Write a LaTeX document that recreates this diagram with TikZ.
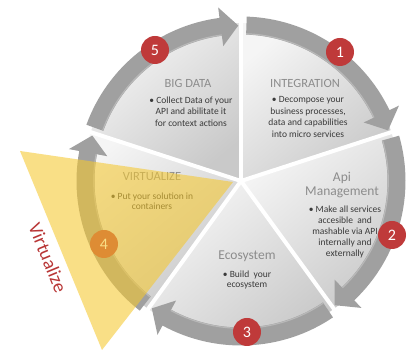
\documentclass[tikz,border=0pt]{standalone}
\usepackage{fontspec}
\setmainfont{Carlito}
\definecolor{wedgeL}{HTML}{F5F5F5}
\definecolor{wedgeD}{HTML}{C9C9C9}
\definecolor{arrowc}{HTML}{A0A0A0}
\definecolor{arrowL}{HTML}{B8B8B8}
\definecolor{titlegray}{HTML}{8C8C8C}
\definecolor{bulgray}{HTML}{3A3A3A}
\definecolor{numred}{HTML}{BF3A3A}
\definecolor{trifill}{HTML}{F5C830}
\definecolor{virtred}{HTML}{B83535}
\tikzset{
  ttl/.style={text=titlegray, font=\fontsize{12.5}{14}\selectfont, inner sep=0pt},
  bul/.style={text=bulgray, font=\fontsize{9.5}{11.4}\selectfont, align=center, inner sep=0pt},
  numc/.style={circle, fill=numred, text=white, minimum size=28pt, inner sep=0pt, font=\fontsize{16}{16}\selectfont},
  wedge/.style={top color=wedgeL, bottom color=wedgeD, shading angle=40},
  ringarrow/.style={fill=arrowc},
  sep/.style={white, line width=4pt},
  tri/.style={fill=trifill, fill opacity=0.58}
}
\begin{document}
\begin{tikzpicture}[x=1pt,y=1pt]
\useasboundingbox (0,0) rectangle (408,352);
\fill[white] (0,0) rectangle (408,352);
\coordinate (C) at (241,171);
% wedges
\foreach \lo/\hi in {18/90, -54/18, -126/-54, 162/234, 90/162} {
  \shade[wedge, shift={(C)}] (0,0) -- (\lo:158) arc[start angle=\lo, end angle=\hi, radius=158] -- cycle;
}
% separators
\foreach \a in {90,18,-54,-126,162} {
  \draw[sep, shift={(C)}] (0,0) -- (\a:170);
}
% ring arrows
\foreach \lo/\hi in {18/90, -54/18, -126/-54, 162/234, 90/162} {
  \pgfmathsetmacro\as{\hi-2}
  \pgfmathsetmacro\ab{\lo+7.5}
  \pgfmathsetmacro\at{\lo+1}
  \fill[ringarrow, shift={(C)}] (\as:164.5) arc[start angle=\as, end angle=\ab, radius=164.5]
    -- (\ab:175) -- (\at:155.5) -- (\ab:136) -- (\ab:146.5)
    arc[start angle=\ab, end angle=\as, radius=146.5] -- cycle;
  \draw[arrowL, line width=1.2pt, shift={(C)}] (\as:147.3) arc[start angle=\as, end angle=\ab, radius=147.3];
}
% texts
\node[ttl] (t5) at (188,269) {BIG DATA};
\node[bul] (b5) at (191,240.5) {• Collect Data of your\\API and abilitate it\\for context actions};
\node[ttl] (t1) at (305,269) {INTEGRATION};
\node[bul] (b1) at (308,235) {• Decompose your\\business processes,\\data and capabilities\\into micro services};
\node[ttl, font=\fontsize{13.5}{14}\selectfont, align=center] (t2) at (342,167) {Api\\Management};
\node[bul, font=\fontsize{9.5}{11}\selectfont] (b2) at (345,120) {• Make all services\\accesible\ \ and\\mashable via API\\internally and\\externally};
\node[ttl, font=\fontsize{13.5}{14}\selectfont] (t3) at (247,96) {Ecosystem};
\node[bul, font=\fontsize{9.5}{10.5}\selectfont] (b3) at (247,72) {• Build\ \ your\\ecosystem};
\node[ttl] (t4) at (152,175) {VIRTUALIZE};
\node[bul, font=\fontsize{9.5}{10.5}\selectfont] (b4) at (152,151) {• Put your solution in\\containers};
% numbers
\node[numc] (n5) at (155,302) {5};
\node[numc] (n1) at (340,300) {1};
\node[numc] (n2) at (392,117) {2};
\node[numc] (n3) at (247,20) {3};
\node[numc] (n4) at (104,108) {4};
% triangle
\fill[tri] (20,201) -- (233,170) -- (102,2) -- cycle;
\node[rotate=-67.6, text=virtred, font=\fontsize{19}{19}\selectfont] (vl) at (48,94) {Virtualize};
\end{tikzpicture}
\end{document}
